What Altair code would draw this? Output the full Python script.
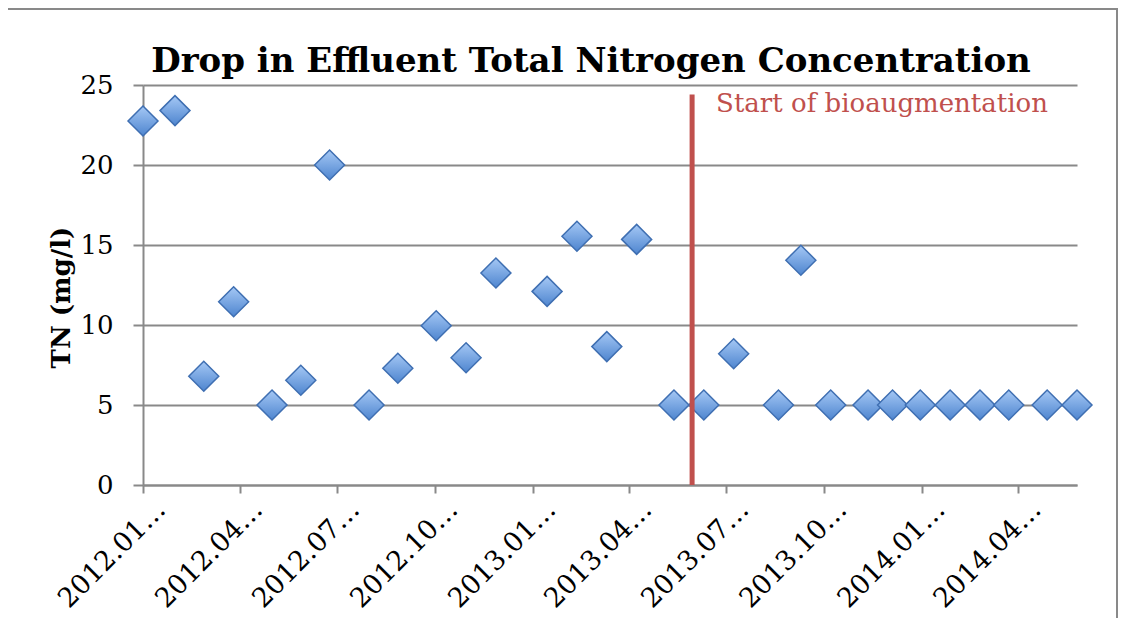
import altair as alt
import pandas as pd

# ---- data ----
dates = [
    "2012-01-01", "2012-01-31", "2012-02-27", "2012-03-26", "2012-05-01",
    "2012-05-28", "2012-06-24", "2012-07-31", "2012-08-27", "2012-10-02",
    "2012-10-30", "2012-11-27", "2013-01-14", "2013-02-11", "2013-03-11",
    "2013-04-08", "2013-05-13", "2013-06-10", "2013-07-08", "2013-08-19",
    "2013-09-09", "2013-10-07", "2013-11-11", "2013-12-04", "2013-12-30",
    "2014-01-27", "2014-02-24", "2014-03-23", "2014-04-28", "2014-05-26",
]
tn_values = [
    22.75, 23.4, 6.8, 11.45, 5.0,
    6.55, 20.0, 5.0, 7.3, 9.95,
    7.95, 13.25, 12.1, 15.55, 8.65,
    15.35, 5.0, 5.0, 8.2, 5.0,
    14.05, 5.0, 5.0, 5.0, 5.0,
    5.0, 5.0, 5.0, 5.0, 5.0,
]
start_dates = ["2013-05-30"]
start_labels = ["Start of bioaugmentation"]
rule_tops = [24.4]
rule_bottoms = [0]
label_levels = [23.3]
title_text = "Drop in Effluent Total Nitrogen Concentration"
y_title = "TN (mg/l)"
y_ticks = [0, 5, 10, 15, 20, 25]
x_tick_months = [(2012, 1), (2012, 4), (2012, 7), (2012, 10), (2013, 1),
                 (2013, 4), (2013, 7), (2013, 10), (2014, 1), (2014, 4)]
x_domain = [(2012, 1, 1), (2014, 5, 26)]

df = pd.DataFrame({"date": [d + "T00:00:00" for d in dates], "tn": tn_values})
ann = pd.DataFrame({
    "date": [d + "T00:00:00" for d in start_dates],
    "top": rule_tops, "bottom": rule_bottoms,
    "level": label_levels, "label": start_labels,
})
one = pd.DataFrame({"t": [title_text]})

W, H = 934, 400
GRAY = "#898989"
RED = "#c0504d"
SERIF = "DejaVu Serif"

x_scale = alt.Scale(domain=[alt.DateTime(year=y, month=m, date=d) for y, m, d in x_domain])
y_scale = alt.Scale(domain=[0, 25], nice=False)

x_axis = alt.Axis(
    values=[alt.DateTime(year=y, month=m, date=1) for y, m in x_tick_months],
    labelExpr="timeFormat(datum.value, '%Y.%m') + '…'",
    labelAngle=315, labelAlign="right", labelBaseline="middle",
    labelFont=SERIF, labelFontSize=27, labelColor="black",
    labelPadding=12, labelOffset=18, labelOverlap=False, labelFlush=False,
    grid=False, domainColor=GRAY, domainWidth=2,
    tickColor=GRAY, tickWidth=2, tickSize=8, title=None,
)
y_axis = alt.Axis(
    values=y_ticks, grid=True, gridColor=GRAY, gridWidth=2,
    domainColor=GRAY, domainWidth=2, tickColor=GRAY, tickWidth=2, tickSize=10,
    labelFont=SERIF, labelFontSize=26, labelColor="black", labelPadding=20,
    title=y_title, titleFont=SERIF, titleFontSize=26, titleFontWeight="bold",
    titleColor="black", titleAngle=270, titleX=-82, titleY=212,
    titleAlign="center", titleBaseline="middle",
)

x_enc = alt.X("date:T", scale=x_scale, axis=x_axis)

frame = alt.Chart(one).mark_rect(
    fill="transparent", stroke=GRAY, strokeWidth=2
).encode(
    x=alt.value(-137), x2=alt.value(974), y=alt.value(-76), y2=alt.value(560)
)

grad = alt.LinearGradient(
    gradient="linear",
    stops=[alt.GradientStop(color="#a5c8f5", offset=0),
           alt.GradientStop(color="#4e85cf", offset=1)],
    x1=0, x2=0, y1=0, y2=1,
)

points = alt.Chart(df).mark_point(
    shape="diamond", filled=True, size=900, fill=grad,
    stroke="#3f6fb2", strokeWidth=1.5, opacity=1,
).encode(
    x=x_enc,
    y=alt.Y("tn:Q", scale=y_scale, axis=y_axis),
)

rule = alt.Chart(ann).mark_rule(color=RED, strokeWidth=5).encode(
    x=x_enc,
    y=alt.Y("top:Q", scale=y_scale, axis=y_axis),
    y2="bottom:Q",
)

label = alt.Chart(ann).mark_text(
    align="left", baseline="alphabetic", dx=24, color=RED,
    font=SERIF, fontSize=26,
).encode(
    x=x_enc,
    y=alt.Y("level:Q", scale=y_scale, axis=y_axis),
    text="label:N",
)

title = alt.Chart(one).mark_text(
    align="center", baseline="alphabetic", font=SERIF, fontSize=34,
    fontWeight="bold", color="black",
).encode(x=alt.value(448), y=alt.value(-13), text="t:N")

chart = alt.layer(frame, points, rule, label, title).properties(
    width=W, height=H,
    autosize=alt.AutoSizeParams(type="none"),
    padding={"left": 135, "top": 77, "right": 41, "bottom": 133},
    background="white",
).configure_view(strokeWidth=0)

chart.save("out.html", embed_options={"renderer": "svg", "actions": False})
